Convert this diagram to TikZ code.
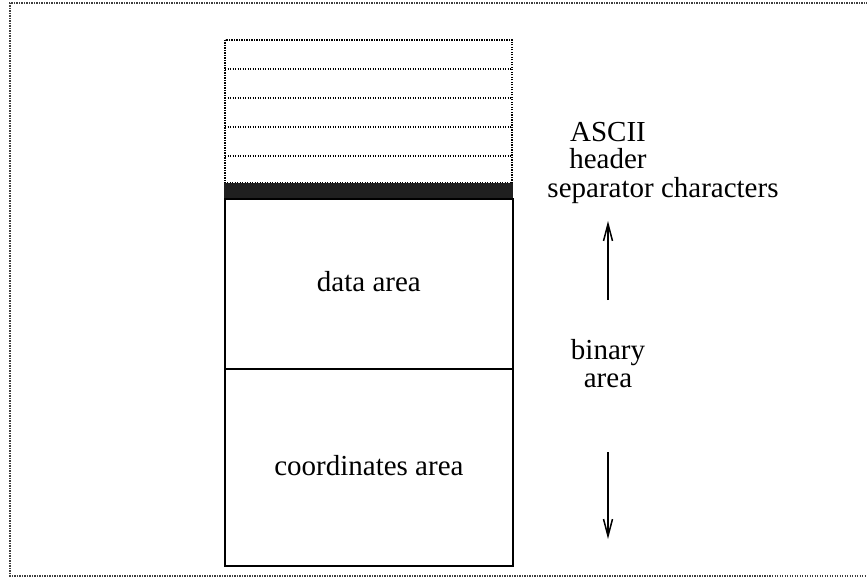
\documentclass[tikz,border=0pt]{standalone}
\usepackage{fontspec}
\setmainfont{Liberation Serif}
\usetikzlibrary{arrows.meta}
\begin{document}
\begin{tikzpicture}[x=1pt,y=-1pt,
  lbl/.style={font=\fontsize{29}{31}\selectfont, inner sep=0pt, text height=18pt, text depth=5pt},
  dotline/.style={line width=1.6pt, dash pattern=on 1.3pt off 1.2pt},
  solidbox/.style={line width=1.8pt},
  arr/.style={line width=1.5pt, -{Straight Barb[length=17pt,width=9pt,line width=1.5pt]}}]
\useasboundingbox (0,0) rectangle (867,577);
% outer dotted frame (open to the right)
\draw[dotline, line width=1.1pt, black!75] (880,3) -- (10,3) -- (10,576) -- (880,576);
% ASCII header lines
\draw[dotline] (225,40) rectangle (512,183);
\foreach \y in {69,98,127,156} \draw[dotline] (225,\y) -- (512,\y);
% separator band
\fill[black!88] (224,183) rectangle (513,198);
% binary area
\node[solidbox, draw, minimum width=288pt, minimum height=170pt, anchor=north west, inner sep=0pt] (data) at (224,198) {};
\node[solidbox, draw, minimum width=288pt, minimum height=197pt, anchor=north west, inner sep=0pt] (coord) at (224,368) {};
\node[lbl] at ([yshift=-1pt]data.center) {data area};
\node[lbl] at ([yshift=-2pt]coord.center) {coordinates area};
% labels
\node[lbl] (ascii) at (608,135) {ASCII};
\node[lbl] (hdr) at (608,162) {header};
\node[lbl] (sep) at (663,191) {separator characters};
\node[lbl] (bin) at (608,353) {binary};
\node[lbl] (area) at (608,381) {area};
\coordinate (upS) at (608,300);
\coordinate (upE) at (608,221);
\coordinate (dnS) at (608,452);
\coordinate (dnE) at (608,539);
\draw[arr] (upS) -- (upE);
\draw[arr] (dnS) -- (dnE);
\end{tikzpicture}
\end{document}
